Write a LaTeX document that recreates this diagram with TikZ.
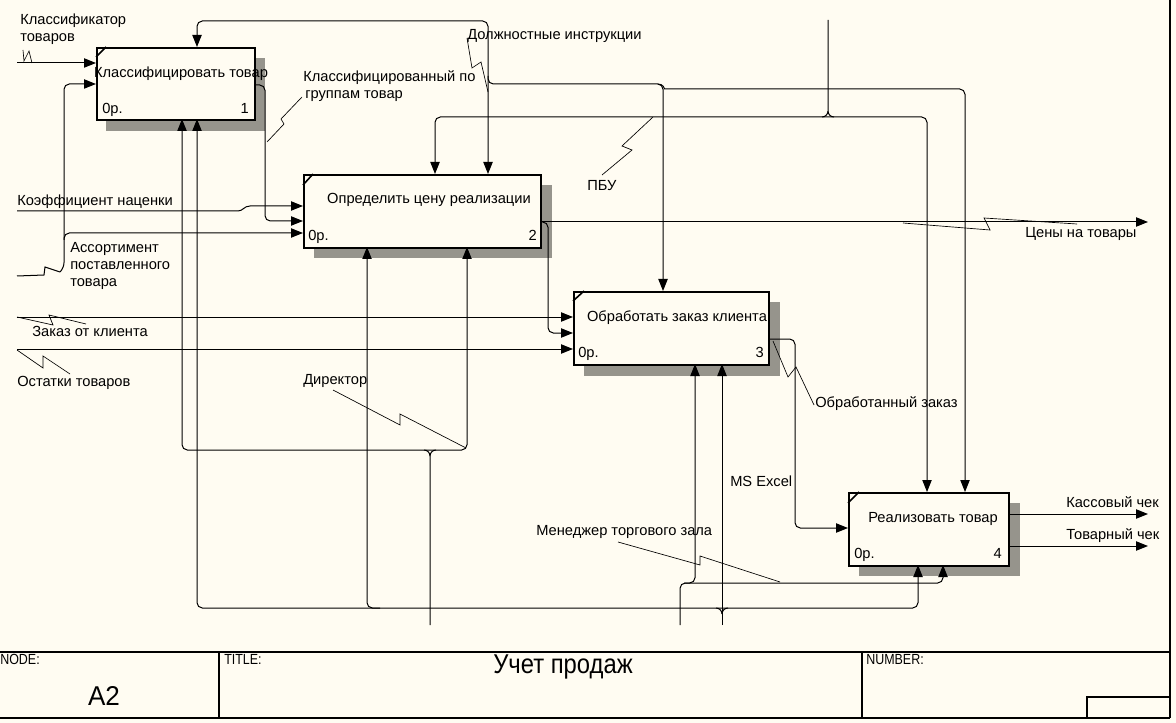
\documentclass[tikz,border=0pt]{standalone}
\usepackage{fontspec}
\setmainfont{Liberation Sans}
\usetikzlibrary{arrows.meta}
\definecolor{bg}{RGB}{255,252,242}
\definecolor{shd}{RGB}{150,148,140}
\begin{document}
\begin{tikzpicture}[x=0.75pt,y=-0.75pt,
  ln/.style={line width=0.75pt},
  arr/.style={ln,-{Triangle[length=9pt,width=7pt]}},
  barr/.style={ln,{Triangle[length=9pt,width=7pt]}-{Triangle[length=9pt,width=7pt]}},
  rc/.style={rounded corners=4pt},
  sq/.style={line width=0.5pt},
  fbox/.style={draw, line width=1.6pt, fill=bg, inner sep=0, anchor=north west},
  cmark/.style={line width=1.2pt},
  lbl/.style={font=\fontsize{11}{13}\selectfont, inner sep=0, anchor=west, text height=1.5ex, text depth=.25ex},
  frm/.style={line width=1.5pt},
  tb/.style={font=\fontsize{11}{13}\selectfont, inner sep=0, anchor=west, text height=1.5ex, text depth=.25ex},
]
\useasboundingbox (0,0) rectangle (1176,723);
\fill[bg] (0,0) rectangle (1176,723);

% shadows
\fill[shd] (106,58) rectangle (265,131);
\fill[shd] (314,185) rectangle (552,258);
\fill[shd] (584,302) rectangle (780,376);
\fill[shd] (859,503) rectangle (1020,576);

% boxes
\node[fbox, minimum width=118.5pt, minimum height=54pt] (b1) at (96,47) {};
\node[fbox, minimum width=177.75pt, minimum height=54.75pt] (b2) at (303,174) {};
\node[fbox, minimum width=146.25pt, minimum height=54.75pt] (b3) at (573,291) {};
\node[fbox, minimum width=120pt, minimum height=54.75pt] (b4) at (848,492) {};
\draw[cmark] (96,57) -- (106,47);
\draw[cmark] (303,185) -- (313,174);
\draw[cmark] (573,301) -- (584,291);
\draw[cmark] (848,503) -- (859,492);

% ports
\coordinate (b1i1) at (96,63);
\coordinate (b1i2) at (96,84);
\coordinate (b1c) at (197,47);
\coordinate (b1o) at (254,85);
\coordinate (b1m1) at (182,119);
\coordinate (b1m2) at (197,119);
\coordinate (b2i1) at (303,206);
\coordinate (b2i2) at (303,221);
\coordinate (b2i3) at (303,233);
\coordinate (b2c1) at (435,174);
\coordinate (b2c2) at (488,174);
\coordinate (b2o) at (540,222);
\coordinate (b2m1) at (367,247);
\coordinate (b2m2) at (467,247);
\coordinate (b3i1) at (573,317);
\coordinate (b3i2) at (573,333);
\coordinate (b3i3) at (573,349);
\coordinate (b3c) at (663,291);
\coordinate (b3o) at (768,339);
\coordinate (b3m1) at (695,364);
\coordinate (b3m2) at (722,364);
\coordinate (b4i) at (848,528);
\coordinate (b4c1) at (927,492);
\coordinate (b4c2) at (965,492);
\coordinate (b4o1) at (1008,514);
\coordinate (b4o2) at (1008,546);
\coordinate (b4m1) at (918,565);
\coordinate (b4m2) at (943,565);
% free ends
\coordinate (eKl) at (17,63);
\coordinate (eAs) at (17,276);
\coordinate (eKo) at (17,211);
\coordinate (eZa) at (17,317);
\coordinate (eOs) at (17,349);
\coordinate (ePb) at (828,20);
\coordinate (eCe) at (1148,222);
\coordinate (eKa) at (1148,514);
\coordinate (eTo) at (1148,546);
\coordinate (eDi) at (430,625);
\coordinate (eEx) at (722,625);
\coordinate (eMe) at (680,625);

% Классификатор товаров
\draw[arr] (eKl) -- (b1i1);
\draw[sq] (23,50) -- (24,61) -- (29,51) -- (32,63);

% Ассортимент поставленного товара
\draw[ln] (eAs) -- (44,275) -- (45,267) -- (60,272);
\draw[arr, rc] (60,272) -- (64,268) |- (b1i2);
\draw[arr, rc] (64,240) |- (b2i3);

% Коэффициент наценки
\draw[arr] (eKo) -- (238,211) .. controls (243,211) and (244,206) .. (250,206) -- (b2i1);

% Классифицированный по группам товар
\draw[arr, rc] (b1o) -| (265,150) |- (b2i2);
\draw[sq] (267,142) -- (284,124) -- (281,119) -- (302,97);

% Должностные инструкции
\draw[barr, rc] (b1c) |- (488,21) -- (b2c2);
\draw[arr, rc] (488,76) |- (663,84) -- (b3c);
\draw[arr, rc] (658,84) .. controls (664,84) and (664,89) .. (670,89) -- (965,89) -- (b4c2);
\draw[sq] (467,38) -- (472,68) -- (481,62) -- (488,92);

% ПБУ
\draw[barr, rc] (b2c1) |- (927,117) -- (b4c1);
\draw[ln] (ePb) -- (828,111) to[out=-90,in=0] (822,117);
\draw[ln] (828,111) to[out=-90,in=180] (834,117);
\draw[sq] (602,175) -- (632,150) -- (622,146) -- (653,117);

% Цены на товары
\draw[arr] (b2o) -- (eCe);
\draw[arr, rc] (b2o) -| (548,300) |- (b3i2);
\draw[sq] (903,223) -- (990,230) -- (984,218) -- (1077,224);

% Заказ от клиента
\draw[arr] (eZa) -- (b3i1);
\draw[sq] (17,317) -- (53,325) -- (49,315) -- (86,324);

% Остатки товаров
\draw[arr] (eOs) -- (b3i3);
\draw[sq] (17,350) -- (43,368) -- (43,356) -- (70,374);

% Обработанный заказ
\draw[arr, rc] (b3o) -| (795,450) |- (b4i);
\draw[sq] (773,341) -- (788,377) -- (796,367) -- (814,405);

% Кассовый / Товарный чек
\draw[arr] (b4o1) -- (eKa);
\draw[arr] (b4o2) -- (eTo);

% Директор
\draw[barr, rc] (b1m1) |- (467,450) -- (b2m2);
\draw[ln] (eDi) -- (430,456) to[out=90,in=0] (424,450);
\draw[ln] (430,456) to[out=90,in=180] (436,450);
\draw[sq] (333,390) -- (400,425) -- (400,414) -- (466,448);

% MS Excel
\draw[barr, rc] (b1m2) |- (918,608) -- (b4m1);
\draw[arr, rc] (380,608) -| (b2m1);
\draw[arr] (eEx) -- (b3m2);
\draw[ln] (722,614) to[out=90,in=0] (716,608);
\draw[ln] (722,614) to[out=90,in=180] (728,608);

% Менеджер торгового зала
\draw[arr, rc] (eMe) |- (943,583) -- (b4m2);
\draw[arr, rc] (684,583) -| (b3m1);
\draw[sq] (618,542) -- (700,565) -- (700,556) -- (780,582);

% box texts
\node[lbl, anchor=center] (t1) at (181,73) {Классифицировать товар};
\node[lbl] (o1) at (102,109) {0р.};
\node[lbl, anchor=east] (k1) at (249,109) {1};
\node[lbl, anchor=center] (t2) at (429,199) {Определить цену реализации};
\node[lbl] (o2) at (308,236) {0р.};
\node[lbl, anchor=east] (k2) at (537,236) {2};
\node[lbl, anchor=center] (t3) at (677,317) {Обработать заказ клиента};
\node[lbl] (o3) at (578,353) {0р.};
\node[lbl, anchor=east] (k3) at (764,353) {3};
\node[lbl, anchor=center] (t4) at (933,518) {Реализовать товар};
\node[lbl] (o4) at (854,554) {0р.};
\node[lbl, anchor=east] (k4) at (1002,554) {4};

% arrow labels
\node[lbl] (l1a) at (20,20) {Классификатор};
\node[lbl] (l1b) at (20,37) {товаров};
\node[lbl] (l2a) at (303,77) {Классифицированный по};
\node[lbl] (l2b) at (305,94) {группам товар};
\node[lbl] (l3) at (467,35) {Должностные инструкции};
\node[lbl] (l4) at (587,186) {ПБУ};
\node[lbl] (l5) at (17,201) {Коэффициент наценки};
\node[lbl] (l6a) at (70,248) {Ассортимент};
\node[lbl] (l6b) at (70,265) {поставленного};
\node[lbl] (l6c) at (70,282) {товара};
\node[lbl] (l7) at (1025,233) {Цены на товары};
\node[lbl] (l8) at (32,332) {Заказ от клиента};
\node[lbl] (l9) at (17,382) {Остатки товаров};
\node[lbl] (l10) at (303,380) {Директор};
\node[lbl] (l11) at (815,403) {Обработанный заказ};
\node[lbl] (l12) at (730,482) {MS Excel};
\node[lbl] (l13) at (536,531) {Менеджер торгового зала};
\node[lbl] (l14) at (1066,503) {Кассовый чек};
\node[lbl] (l15) at (1066,535) {Товарный чек};

% frame and title block
\draw[frm] (0,652) -- (1170,652);
\draw[frm] (0,718) -- (1170,718);
\draw[frm] (1170,0) -- (1170,718);
\draw[line width=1pt] (219,652) -- (219,718);
\draw[line width=1pt] (862,652) -- (862,718);
\draw[line width=1pt] (1087,718) |- (1170,697);
\node[tb] (nodeL) at (0,660) {\scalebox{0.85}[1]{NODE:}};
\node[tb] (titleL) at (224,660) {\scalebox{0.85}[1]{TITLE:}};
\node[tb] (numL) at (866,660) {\scalebox{0.85}[1]{NUMBER:}};
\node[inner sep=0, font=\fontsize{17}{20}\selectfont] (nodeV) at (104,696) {\scalebox{1.15}[1.2]{A2}};
\node[inner sep=0, font=\fontsize{17}{20}\selectfont] (titleV) at (563,667) {\scalebox{1.05}[1.2]{Учет продаж}};
\end{tikzpicture}
\end{document}
